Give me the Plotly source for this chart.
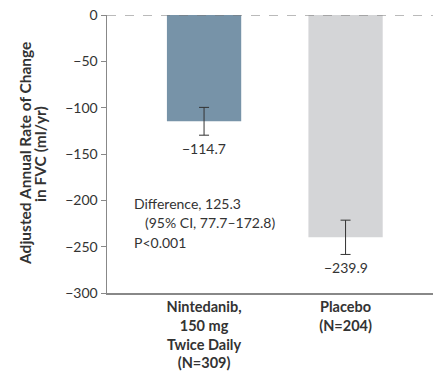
import plotly.graph_objects as go

categories = ["Nintedanib,<br>150 mg<br>Twice Daily<br>(N=309)", "Placebo<br>(N=204)"]
values = [-114.7, -239.9]
err_plus = [15.0, 18.5]
err_minus = [15.0, 18.5]
value_labels = ["\u2212114.7", "\u2212239.9"]
bar_colors = ["#7793a8", "#d4d5d7"]
y_ticks = [0, -50, -100, -150, -200, -250, -300]
y_tick_labels = ["0", "\u221250", "\u2212100", "\u2212150", "\u2212200", "\u2212250", "\u2212300"]
diff_lines = ["Difference, 125.3", "(95% CI, 77.7\u2013172.8)", "P<0.001"]
y_title_lines = ["Adjusted Annual Rate of Change", "in FVC (ml/yr)"]

FONT = "Lato"
TXT = "#333333"
xs = list(range(len(categories)))

fig = go.Figure()
fig.add_trace(go.Bar(
    x=xs, y=values, width=0.525,
    marker=dict(color=bar_colors, line=dict(width=0)),
    error_y=dict(type="data", symmetric=False, array=err_plus, arrayminus=err_minus,
                 color="#333333", thickness=1, width=5),
    showlegend=False, hoverinfo="skip",
))

annotations = []
for x, v, em, lab in zip(xs, values, err_minus, value_labels):
    annotations.append(dict(x=x, y=v - em, xref="x", yref="y", text=lab, showarrow=False,
                            yanchor="top", yshift=-3, font=dict(family=FONT, size=14, color=TXT)))
# difference block: three lines, second indented
diff_pos = [(-0.509, -203.0), (-0.431, -223.5), (-0.509, -246.0)]
for (dx, dy), line in zip(diff_pos, diff_lines):
    annotations.append(dict(x=dx, y=dy, xref="x", yref="y", text=line, showarrow=False,
                            xanchor="left", yanchor="middle",
                            font=dict(family=FONT, size=14, color=TXT)))
# y-axis title, two rotated lines
for px, line in zip([25, 40], y_title_lines):
    annotations.append(dict(x=(px - 107) / 326.0, y=0.5, xref="paper", yref="paper",
                            text="<b>" + line + "</b>", textangle=-90, showarrow=False,
                            xanchor="center", yanchor="middle",
                            font=dict(family=FONT, size=15.5, color=TXT)))

fig.update_layout(
    width=433, height=371,
    margin=dict(l=107, r=0, t=15, b=78, autoexpand=False),
    paper_bgcolor="white", plot_bgcolor="white",
    annotations=annotations,
    shapes=[dict(type="line", xref="paper", yref="y", x0=0, x1=1, y0=0, y1=0,
                 line=dict(color="#777777", width=1.2, dash="dash"), layer="above")],
    xaxis=dict(range=[-0.686, 1.618], tickvals=xs,
               ticktext=["<b>" + c.replace("<br>", "</b><br><b>") + "</b>" for c in categories],
               tickfont=dict(family=FONT, size=14.5, color=TXT),
               showline=True, linecolor="#888888", linewidth=1.5, ticks="",
               showgrid=False, zeroline=False, automargin=False),
    yaxis=dict(range=[-300, 0], tickvals=y_ticks, ticktext=y_tick_labels,
               tickfont=dict(family=FONT, size=14, color=TXT),
               showline=True, linecolor="#888888", linewidth=1.5, ticks="outside",
               ticklen=5, tickcolor="#888888", showgrid=False, zeroline=False,
               automargin=False),
)

fig.write_html("out.html", config={"displayModeBar": False, "staticPlot": True},
               post_script="document.body.style.margin='0';document.body.style.overflow='hidden';")
